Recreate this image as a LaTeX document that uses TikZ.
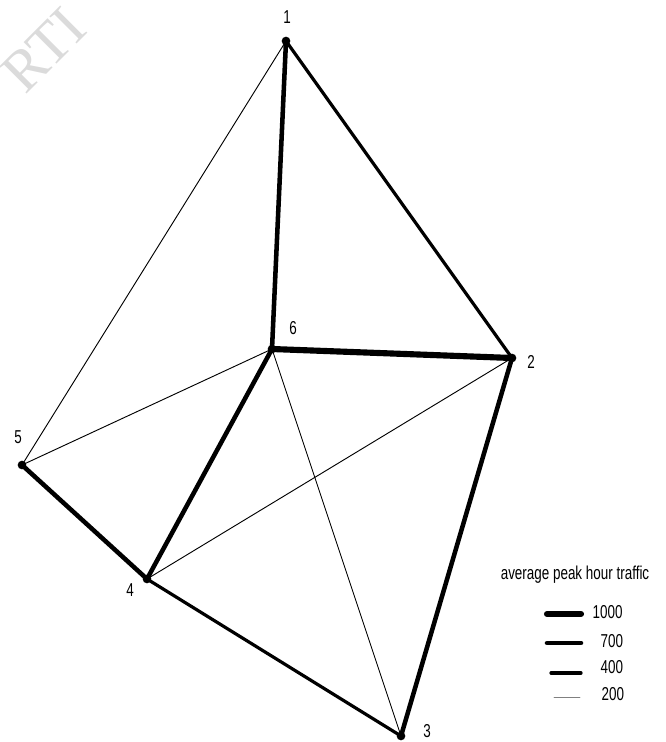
\documentclass[tikz,border=0pt]{standalone}
\usepackage{fontspec}
\setmainfont[FakeStretch=0.72]{Liberation Sans}
\newfontfamily\wmfont{Liberation Serif}
\begin{document}
\begin{tikzpicture}[x=0.75pt,y=-0.75pt,
  lw1000/.style={line width=4.6pt,line cap=round},
  lw700/.style={line width=3.4pt,line cap=round},
  lw400/.style={line width=2.4pt,line cap=round},
  lw200/.style={line width=0.7pt,line cap=round},
  vdot/.style={circle,fill=black,inner sep=0pt,minimum size=6.5pt},
  lbl/.style={font=\fontsize{14}{16}\selectfont,inner sep=1pt},
  leg/.style={font=\fontsize{14}{16}\selectfont,inner sep=1pt,anchor=west}]
\useasboundingbox (0,0) rectangle (665,742);
% watermark
\node[text=gray!28,rotate=45,font=\wmfont\fontsize{44}{44}\selectfont] (wm) at (44,50) {RTI};
% vertices
\coordinate (v1) at (286,41);
\coordinate (v2) at (512,358);
\coordinate (v3) at (401,736);
\coordinate (v4) at (147,579);
\coordinate (v5) at (22,465);
\coordinate (v6) at (272,349);
% edges
\draw[lw200] (v1) -- (v5);
\draw[lw200] (v6) -- (v5);
\draw[lw200] (v6) -- (v3);
\draw[lw200] (v2) -- (v4);
\draw[lw400] (v1) -- (v2);
\draw[lw400] (v4) -- (v3);
\draw[lw700] (v1) -- (v6);
\draw[lw700] (v6) -- (v4);
\draw[lw700] (v2) -- (v3);
\draw[lw700] (v5) -- (v4);
\draw[lw1000] (v6) -- (v2);
% dots
\foreach \v in {v1,v2,v3,v4,v5,v6} \node[vdot] at (\v) {};
% labels
\node[lbl] (l1) at (287,17) {1};
\node[lbl] (l2) at (531,362) {2};
\node[lbl] (l3) at (427,731) {3};
\node[lbl] (l4) at (130,590) {4};
\node[lbl] (l5) at (18,437) {5};
\node[lbl] (l6) at (293,328) {6};
% legend
\node[lbl] (lt) at (575,575) {average peak hour traffic};
\coordinate (a1) at (547,614); \coordinate (b1) at (581,614);
\coordinate (a2) at (547,643); \coordinate (b2) at (581,643);
\coordinate (a3) at (551,673); \coordinate (b3) at (581,673);
\coordinate (a4) at (554,697); \coordinate (b4) at (580,697);
\draw[lw1000] (a1) -- (b1);
\draw[lw700] (a2) -- (b2);
\draw[lw400] (a3) -- (b3);
\draw[lw200,gray] (a4) -- (b4);
\node[leg] (t1) at (591,612) {1000};
\node[leg] (t2) at (599,641) {700};
\node[leg] (t3) at (599,667) {400};
\node[leg] (t4) at (600,694) {200};
\end{tikzpicture}
\end{document}
